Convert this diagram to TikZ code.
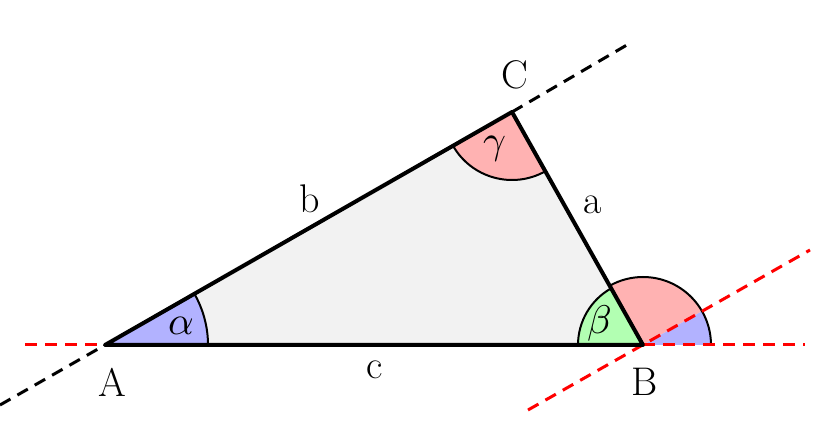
\documentclass[tikz,border=0pt]{standalone}
\usepackage{fontspec}
\usepackage{unicode-math}
\begin{document}
\begin{tikzpicture}[x=1pt,y=1pt,
  lbl/.style={font=\fontsize{40}{40}\selectfont},
  sect/.style={draw=black,line width=2pt},
  dsh/.style={line width=3pt,dash pattern=on 12pt off 8pt}]
\useasboundingbox (0,0) rectangle (820,423);
\coordinate (A) at (105,78);
\coordinate (B) at (643,78);
\coordinate (C) at (512,311);
\fill[gray!10] (A)--(B)--(C)--cycle;
% sectors
\fill[blue!30] (A) -- ++(0:103) arc (0:29.8:103) -- cycle;
\draw[sect] ([shift={(0:103)}]A) arc (0:29.8:103);
\fill[red!30] (C) -- ++(209.8:68) arc (209.8:299.4:68) -- cycle;
\draw[sect] ([shift={(209.8:68)}]C) arc (209.8:299.4:68);
\fill[red!30] (B) -- ++(29.8:68) arc (29.8:119.4:68) -- cycle;
\fill[blue!30] (B) -- ++(0:68) arc (0:29.8:68) -- cycle;
\draw[sect] ([shift={(0:68)}]B) arc (0:119.4:68);
\fill[green!30] (B) -- ++(119.4:65) arc (119.4:180:65) -- cycle;
\draw[sect] ([shift={(119.4:65)}]B) arc (119.4:180:65);
% dashed lines
\coordinate (L1) at (0,18); \coordinate (L2) at (632,381);
\draw[dsh,black] (L1)--(A); \draw[dsh,black] (C)--(L2);
\coordinate (H1) at (25,78); \coordinate (H2) at (805,78);
\draw[dsh,red] (H1)--(A); \draw[dsh,red] (B)--(H2);
\coordinate (P1) at (528,13); \coordinate (P2) at (810,173);
\draw[dsh,red] (P1)--(P2);
% triangle
\draw[line width=4pt,line join=round] (A)--(B)--(C)--cycle;
% labels
\node[lbl] (lA) at (112,41) {A};
\node[lbl] (lB) at (645,41) {B};
\node[lbl] (lC) at (515,348) {C};
\node[lbl] (la) at (593,218) {a};
\node[lbl] (lb) at (310,224) {b};
\node[lbl] (lc) at (375,53) {c};
\node[lbl] (al) at (181,97) {$\alpha$};
\node[lbl] (be) at (600,100) {$\beta$};
\node[lbl] (ga) at (495,274) {$\gamma$};
\end{tikzpicture}
\end{document}
